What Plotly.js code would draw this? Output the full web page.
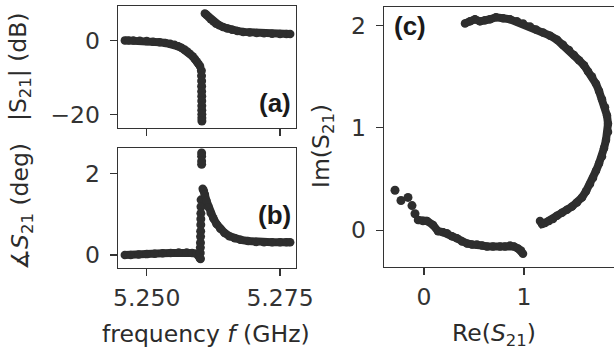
<!DOCTYPE html>
<html>
<head>
<meta charset="utf-8">
<script src="https://cdn.plot.ly/plotly-3.0.1.min.js"></script>
<style>html,body{margin:0;padding:0;background:#fff;overflow:hidden}#plot{width:614px;height:354px}</style>
</head>
<body>
<div id="plot"></div>
<script>
// ---------- Data ----------
// (a) |S21| in dB versus frequency (GHz)
const aLowF  = [5.2459, 5.2466, 5.2475, 5.2487, 5.2500, 5.2512, 5.2524, 5.2535, 5.2544, 5.2552, 5.2559, 5.2565, 5.2571, 5.2576, 5.2581, 5.2586, 5.2590, 5.2594, 5.2597, 5.2600];
const aLowM  = [0.0, 0.0, -0.05, -0.1, -0.2, -0.35, -0.5, -0.7, -0.9, -1.2, -1.6, -2.0, -2.5, -3.0, -3.6, -4.3, -5.0, -5.7, -6.3, -7.0];
const aDipF  = [5.26025, 5.26028, 5.26030, 5.26030, 5.26031, 5.26032, 5.26032, 5.26033, 5.26033, 5.26034, 5.26034, 5.26035];
const aDipM  = [-8.2, -9.6, -11.0, -12.4, -13.8, -15.1, -16.4, -17.7, -18.9, -20.0, -21.0, -21.8];
const aHighF = [5.2609, 5.2612, 5.2616, 5.2620, 5.2625, 5.2630, 5.2636, 5.2643, 5.2651, 5.2660, 5.2670, 5.2681, 5.2693, 5.2706, 5.2720, 5.2735, 5.2750, 5.2762, 5.2769];
const aHighM = [7.3, 6.9, 6.3, 5.7, 5.1, 4.5, 4.1, 3.6, 3.2, 2.85, 2.55, 2.3, 2.15, 2.0, 1.9, 1.8, 1.75, 1.7, 1.7];

// (b) phase of S21 in degrees versus frequency (GHz)
const bLowF  = [5.2459, 5.2470, 5.2485, 5.2500, 5.2515, 5.2530, 5.2545, 5.2560, 5.2575, 5.2585, 5.2593, 5.2598, 5.2601];
const bLowP  = [0.0, 0.0, 0.01, 0.02, 0.03, 0.04, 0.05, 0.06, 0.06, 0.05, 0.03, -0.02, -0.1];
const bJumpF = [5.26030, 5.26030, 5.26030, 5.26030, 5.26020, 5.26018, 5.26016, 5.26015, 5.26014, 5.26012, 5.26010, 5.26008, 5.26006, 5.26004, 5.26002];
const bJumpP = [2.50, 2.42, 2.30, 2.22, 1.35, 1.18, 1.02, 0.88, 0.74, 0.58, 0.45, 0.30, 0.18, 0.05, -0.08];
const bHighF = [5.2605, 5.2607, 5.2609, 5.2612, 5.2616, 5.2620, 5.2625, 5.2631, 5.2638, 5.2646, 5.2655, 5.2665, 5.2676, 5.2690, 5.2705, 5.2720, 5.2735, 5.2750, 5.2762, 5.2769];
const bHighP = [1.62, 1.58, 1.48, 1.33, 1.17, 1.03, 0.90, 0.76, 0.64, 0.54, 0.46, 0.41, 0.37, 0.34, 0.32, 0.31, 0.31, 0.31, 0.31, 0.31];

// (c) Im(S21) versus Re(S21)
const cSparseRe = [-0.29, -0.23, -0.16, -0.12, -0.09];
const cSparseIm = [0.39, 0.29, 0.32, 0.24, 0.16];
const cLowRe  = [-0.06, -0.01, 0.03, 0.09, 0.14, 0.19, 0.23, 0.28, 0.33, 0.38, 0.43, 0.48, 0.53, 0.58, 0.63, 0.69, 0.76, 0.81, 0.86, 0.90, 0.94, 0.97, 0.99];
const cLowIm  = [0.10, 0.09, 0.09, 0.05, -0.01, -0.02, -0.03, -0.06, -0.08, -0.11, -0.13, -0.14, -0.14, -0.15, -0.16, -0.16, -0.16, -0.16, -0.15, -0.16, -0.18, -0.20, -0.23];
const cHighRe = [1.16, 1.18, 1.21, 1.25, 1.29, 1.33, 1.38, 1.43, 1.48, 1.53, 1.58, 1.62, 1.66, 1.69, 1.72, 1.75, 1.78, 1.80, 1.82, 1.84, 1.84, 1.83, 1.81, 1.78, 1.75, 1.72, 1.68, 1.64, 1.60, 1.55, 1.50, 1.45, 1.39, 1.33, 1.26, 1.19, 1.12, 1.06, 0.99, 0.93, 0.86, 0.79, 0.72, 0.66, 0.61, 0.56, 0.51, 0.46, 0.41];
const cHighIm = [0.09, 0.06, 0.07, 0.09, 0.11, 0.14, 0.17, 0.20, 0.23, 0.27, 0.32, 0.38, 0.45, 0.51, 0.58, 0.65, 0.72, 0.80, 0.88, 0.96, 1.04, 1.12, 1.20, 1.28, 1.36, 1.43, 1.50, 1.55, 1.61, 1.66, 1.71, 1.76, 1.81, 1.86, 1.90, 1.93, 1.96, 1.99, 2.02, 2.04, 2.06, 2.07, 2.08, 2.06, 2.05, 2.04, 2.06, 2.04, 2.02];

// Tick labels
const freqTicks = [5.250, 5.275];
const freqTickText = ['5.250', '5.275'];
const magTicks = [-20, 0];
const phaseTicks = [0, 2];
const reTicks = [0, 1];
const imTicks = [0, 1, 2];

// ---------- Styling ----------
const W = 614, H = 354;
const px = x => x / W;
const py = y => 1 - y / H;
const DOT = '#2e2e2e';
const INK = '#333333';
const FONT = 'DejaVu Sans';
const FS = 23.5;

function band(x, y, xa, ya) {
  return {x: x, y: y, xaxis: xa, yaxis: ya, type: 'scatter', mode: 'lines+markers',
    line: {color: DOT, width: 8}, marker: {color: DOT, size: 8.5}, hoverinfo: 'skip'};
}
function dots(x, y, xa, ya) {
  return {x: x, y: y, xaxis: xa, yaxis: ya, type: 'scatter', mode: 'markers',
    marker: {color: DOT, size: 9}, hoverinfo: 'skip'};
}

const data = [
  band(aLowF, aLowM, 'x', 'y'),
  dots(aDipF, aDipM, 'x', 'y'),
  band(aHighF, aHighM, 'x', 'y'),
  band(bLowF, bLowP, 'x2', 'y2'),
  dots(bJumpF, bJumpP, 'x2', 'y2'),
  band(bHighF, bHighP, 'x2', 'y2'),
  dots(cSparseRe, cSparseIm, 'x3', 'y3'),
  band(cLowRe, cLowIm, 'x3', 'y3'),
  band(cHighRe, cHighIm, 'x3', 'y3')
];

const axBase = {
  showgrid: false, zeroline: false, showline: true, linecolor: INK, linewidth: 1.3,
  ticks: 'outside', ticklen: 7, tickwidth: 1.3, tickcolor: INK,
  tickfont: {family: FONT, size: FS, color: INK}, automargin: false, fixedrange: true
};

const layout = {
  width: W, height: H,
  margin: {l: 0, r: 0, t: 0, b: 0, pad: 0},
  paper_bgcolor: '#fff', plot_bgcolor: '#fff',
  showlegend: false, hovermode: false,
  font: {family: FONT, size: FS, color: INK},
  xaxis: Object.assign({}, axBase, {domain: [px(118), px(296)], range: [5.24462, 5.27799], anchor: 'y',
    tickvals: freqTicks, ticktext: freqTickText, showticklabels: false, mirror: true}),
  yaxis: Object.assign({}, axBase, {domain: [py(128), py(6)], range: [-23.7, 9.3], anchor: 'x',
    tickvals: magTicks, mirror: true, ticklabelstandoff: 5}),
  xaxis2: Object.assign({}, axBase, {domain: [px(118), px(296)], range: [5.24462, 5.27799], anchor: 'y2',
    tickvals: freqTicks, ticktext: freqTickText, mirror: true, ticklabelstandoff: 1}),
  yaxis2: Object.assign({}, axBase, {domain: [py(268), py(148)], range: [-0.32, 2.62], anchor: 'x2',
    tickvals: phaseTicks, mirror: true, ticklabelstandoff: 5}),
  xaxis3: Object.assign({}, axBase, {domain: [px(384), 1], range: [-0.40, 1.90], anchor: 'y3',
    tickvals: reTicks, mirror: true, ticklabelstandoff: 1}),
  yaxis3: Object.assign({}, axBase, {domain: [py(267), py(7)], range: [-0.36, 2.18], anchor: 'x3',
    tickvals: imTicks, mirror: false, ticklabelstandoff: 5}),
  annotations: [
    {text: '|S<sub>21</sub>| (dB)', x: px(20), y: py(67), textangle: -90},
    {text: '∡<i>S</i><sub>21</sub> (deg)', x: px(21), y: py(207), textangle: -90},
    {text: 'frequency <i>f</i> (GHz)', x: px(206), y: py(334)},
    {text: 'Im(S<sub>21</sub>)', x: px(322), y: py(146), textangle: -90},
    {text: 'Re(<i>S</i><sub>21</sub>)', x: px(494), y: py(334)},
    {text: '<b>(a)</b>', x: px(293), y: py(103), xanchor: 'right', font: {family: 'Liberation Sans', size: 26, color: '#1a1a1a'}},
    {text: '<b>(b)</b>', x: px(293), y: py(215), xanchor: 'right', font: {family: 'Liberation Sans', size: 26, color: '#1a1a1a'}},
    {text: '<b>(c)</b>', x: px(392), y: py(26), xanchor: 'left', font: {family: 'Liberation Sans', size: 26, color: '#1a1a1a'}}
  ].map(a => Object.assign({xref: 'paper', yref: 'paper', showarrow: false,
    xanchor: 'center', yanchor: 'middle', font: {family: FONT, size: FS, color: '#2b2b2b'}}, a))
};

Plotly.newPlot('plot', data, layout, {staticPlot: true, displayModeBar: false});
</script>
</body>
</html>
